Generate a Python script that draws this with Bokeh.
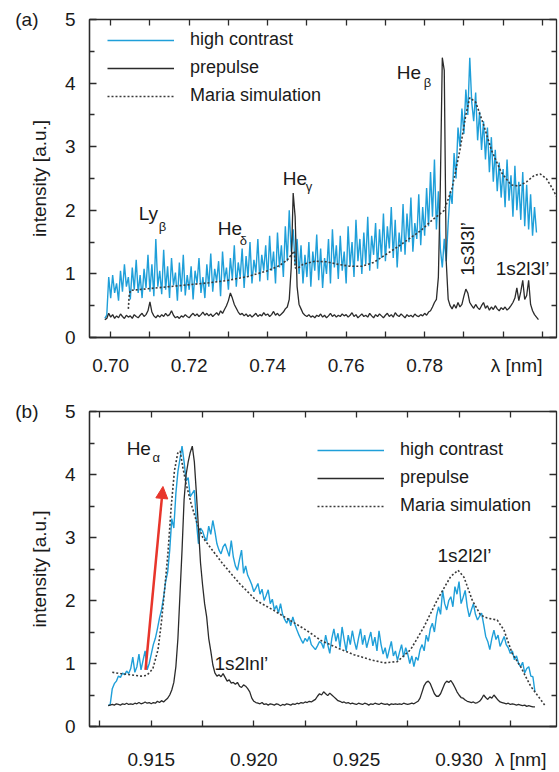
import numpy as np
from bokeh.plotting import figure
from bokeh.layouts import column
from bokeh.models import (FixedTicker, LinearAxis, Label, Arrow, NormalHead,
                          Legend, LegendItem, NumeralTickFormatter, Range1d)
from bokeh.embed import file_html
from bokeh.resources import INLINE

FONT = "Liberation Sans"
BLUE = "#1f9fd9"
DARK = "#2b2b2b"
TXT = "#1a1a1a"

# ---------------- panel (a) data ----------------
a_x0 = 0.6985
a_step = 0.0005
a_high = [
    0.30, 0.35, 0.95,
    0.62, 0.98, 0.70, 0.85, 0.58, 1.05, 0.72, 1.15, 0.80, 0.95,
    0.60, 1.10, 0.75, 1.22, 0.70, 0.98, 0.62, 1.08, 0.78, 1.30,
    0.72, 1.15, 0.65, 1.55, 0.80, 1.05, 0.68, 1.38, 0.75, 1.12,
    0.62, 1.25, 0.82, 1.02, 0.58, 1.18, 0.72, 1.30, 0.66, 0.98,
    0.75, 1.12, 0.60, 1.05, 0.85, 1.25, 0.70, 0.95, 0.62, 1.15,
    0.80, 1.32, 0.72, 1.08, 0.88, 1.20, 0.65, 1.35, 0.90, 1.10,
    0.75, 1.25, 0.92, 1.45, 0.80, 1.18, 0.95, 1.40, 0.78, 1.28,
    0.95, 1.50, 0.85, 1.22, 1.02, 1.55, 0.88, 1.30, 1.05, 1.45,
    0.90, 1.60, 1.05, 1.35, 0.85, 1.65, 1.10, 1.45, 0.95, 1.75,
    1.20, 2.00, 1.35, 1.70, 1.15, 1.55, 1.00, 1.45, 0.85, 1.30,
    0.95, 1.50, 0.80, 1.35, 1.05, 1.62, 0.90, 1.40, 0.78, 1.25,
    1.00, 1.55, 0.85, 1.70, 1.10, 1.45, 0.92, 1.60, 1.05, 1.35,
    0.85, 1.75, 1.12, 1.50, 0.95, 1.85, 1.20, 1.55, 1.00, 1.65,
    1.15, 1.90, 1.05, 1.60, 1.30, 1.80, 1.08, 1.70, 1.25, 1.95,
    1.20, 1.75, 1.40, 2.05, 1.25, 1.85, 1.10, 1.65, 1.35, 2.10,
    1.30, 1.95, 1.50, 2.20, 1.35, 1.80, 1.55, 2.25, 1.45, 2.05,
    1.60, 2.35, 1.75, 2.60, 1.90, 2.80, 1.70, 2.30, 1.40, 1.10,
    1.55, 1.20, 1.80, 2.30, 2.10, 2.90, 2.50, 3.30, 3.00, 3.60,
    3.20, 3.90, 3.50, 4.40, 3.70, 3.40, 3.85, 3.10, 3.55, 2.95,
    3.40, 2.80, 3.30, 2.60, 3.15, 2.45, 2.95, 2.30, 2.75, 2.20,
    2.65, 2.05, 2.80, 2.15, 2.55, 1.90, 2.70, 2.00, 2.45, 1.85,
    2.60, 1.75, 2.40, 1.70, 2.25, 1.60, 2.05, 1.65,
]
a_pre = [
    0.28, 0.30, 0.38,
    0.32, 0.36, 0.30, 0.34, 0.31, 0.37, 0.33, 0.30, 0.35, 0.32,
    0.34, 0.30, 0.36, 0.33, 0.31, 0.35, 0.38, 0.33, 0.36, 0.42,
    0.56, 0.40, 0.34, 0.31, 0.35, 0.32, 0.36, 0.33, 0.38, 0.34,
    0.36, 0.42, 0.35, 0.31, 0.33, 0.30, 0.34, 0.32, 0.36, 0.33,
    0.31, 0.35, 0.38, 0.34, 0.37, 0.33, 0.36, 0.40, 0.35, 0.38,
    0.34, 0.37, 0.33, 0.36, 0.39, 0.35, 0.42, 0.38, 0.44, 0.50,
    0.58, 0.70, 0.62, 0.52, 0.46, 0.40, 0.36, 0.38, 0.34, 0.37,
    0.33, 0.36, 0.32, 0.35, 0.38, 0.33, 0.36, 0.34, 0.39, 0.35,
    0.37, 0.33, 0.36, 0.41, 0.35, 0.38, 0.34, 0.37, 0.40, 0.45,
    0.48, 0.60, 1.10, 2.27, 1.90, 0.80, 0.52, 0.45, 0.38, 0.35,
    0.33, 0.36, 0.32, 0.34, 0.31, 0.35, 0.33, 0.37, 0.32, 0.35,
    0.31, 0.34, 0.38, 0.33, 0.36, 0.32, 0.35, 0.33, 0.37, 0.34,
    0.36, 0.32, 0.35, 0.39, 0.33, 0.36, 0.31, 0.34, 0.37, 0.33,
    0.35, 0.32, 0.38, 0.34, 0.31, 0.36, 0.33, 0.37, 0.34, 0.31,
    0.35, 0.38, 0.33, 0.36, 0.32, 0.39, 0.35, 0.33, 0.37, 0.34,
    0.31, 0.36, 0.33, 0.35, 0.32, 0.37, 0.34, 0.33, 0.36, 0.34,
    0.38, 0.35, 0.40, 0.42, 0.48, 0.55, 0.60, 0.95, 2.40, 4.40,
    4.20, 1.20, 0.60, 0.50, 0.45, 0.52, 0.46, 0.55, 0.48, 0.52,
    0.65, 0.76, 0.70, 0.55, 0.50, 0.46, 0.52, 0.47, 0.44, 0.50,
    0.55, 0.46, 0.50, 0.43, 0.48, 0.44, 0.50, 0.45, 0.42, 0.47,
    0.44, 0.48, 0.43, 0.46, 0.50, 0.55, 0.62, 0.78, 0.58, 0.72,
    0.90, 0.60, 0.66, 0.90, 0.52, 0.42, 0.36, 0.32, 0.28,
]
a_sim_x = [0.7045, 0.7047, 0.7050, 0.7100, 0.7150, 0.7200, 0.7250, 0.7300,
           0.7350, 0.7400, 0.7430, 0.7450, 0.7468, 0.7470, 0.7475, 0.7490,
           0.7520, 0.7550, 0.7580, 0.7610, 0.7640, 0.7670, 0.7700, 0.7730,
           0.7760, 0.7790, 0.7820, 0.7850, 0.7870, 0.7890, 0.7905, 0.7915,
           0.7930, 0.7950, 0.7970, 0.7995, 0.8020, 0.8040, 0.8060, 0.8080,
           0.8095, 0.8110, 0.8125, 0.8136]
a_sim_y = [0.45, 0.65, 0.74, 0.77, 0.80, 0.83, 0.86, 0.90,
           0.96, 1.05, 1.13, 1.22, 1.36, 1.10, 1.08, 1.15,
           1.20, 1.19, 1.15, 1.12, 1.12, 1.18, 1.30, 1.42,
           1.55, 1.68, 1.85, 2.00, 2.35, 2.95, 3.50, 3.77,
           3.70, 3.35, 2.95, 2.60, 2.40, 2.38, 2.45, 2.55,
           2.57, 2.50, 2.35, 2.22]
a_labels = [0.70, 0.72, 0.74, 0.76, 0.78]
a_ticks = [0.70, 0.71, 0.72, 0.73, 0.74, 0.75, 0.76, 0.77, 0.78, 0.79, 0.80, 0.81]
a_unit_at = 0.80344   # where "λ [nm]" sits along the axis

# ---------------- panel (b) data ----------------
b_x0 = 0.9129
b_step = 0.0001
b_high = [
    0.33,
    0.35, 0.60, 0.68, 0.72, 0.80, 0.78, 0.85, 0.82, 0.88, 0.84,
    0.92, 1.10, 0.86, 0.95, 1.15, 0.90, 1.05, 1.20, 0.90, 1.00,
    1.15, 1.30, 1.40, 1.55, 1.72, 1.85, 2.05, 2.30, 2.45, 2.80,
    3.30, 3.15, 3.70, 4.05, 4.25, 4.45, 4.20, 3.90, 3.95, 3.65,
    3.70, 3.75, 3.25, 2.90, 3.15, 3.10, 3.00, 2.95, 3.18, 3.05,
    3.27, 3.10, 2.90, 2.80, 2.74, 2.85, 2.90, 2.80, 2.70, 2.95,
    2.69, 2.55, 2.48, 2.65, 2.80, 2.43, 2.55, 2.40, 2.33, 2.25,
    2.14, 2.20, 2.27, 2.10, 2.18, 2.00, 2.08, 2.17, 1.95, 2.02,
    1.85, 1.92, 1.80, 1.95, 1.78, 1.70, 1.64, 1.72, 1.60, 1.74,
    1.62, 1.53, 1.45, 1.38, 1.32, 1.40, 1.35, 1.43, 1.30, 1.26,
    1.22, 1.28, 1.35, 1.32, 1.24, 1.45, 1.30, 1.16, 1.40, 1.55,
    1.35, 1.48, 1.25, 1.58, 1.38, 1.20, 1.45, 1.30, 1.52, 1.35,
    1.22, 1.40, 1.55, 1.30, 1.45, 1.25, 1.38, 1.50, 1.28, 1.42,
    1.20, 1.52, 1.30, 1.15, 1.25, 1.08, 1.22, 1.35, 1.12, 1.20,
    1.05, 1.18, 1.30, 1.10, 1.25, 1.15, 1.00, 1.12, 0.95, 1.10,
    1.05, 1.22, 1.30, 1.20, 1.45, 1.35, 1.55, 1.64, 1.50, 1.75,
    1.90, 1.78, 2.16, 1.95, 1.85, 2.00, 2.06, 1.90, 2.22, 2.10,
    2.30, 1.95, 2.05, 2.16, 1.90, 1.74, 1.85, 1.95, 1.78, 1.69,
    1.75, 1.80, 1.62, 1.43, 1.35, 1.22, 1.40, 1.53, 1.38, 1.45,
    1.27, 1.35, 1.43, 1.30, 1.25, 1.16, 1.20, 1.06, 1.12, 1.00,
    0.95, 1.02, 0.85, 0.92, 0.95, 0.80, 0.79, 0.55,
]
b_pre = [
    0.33,
    0.34, 0.35, 0.34, 0.36, 0.35, 0.34, 0.36, 0.35, 0.37, 0.35,
    0.36, 0.35, 0.37, 0.36, 0.38, 0.36, 0.37, 0.39, 0.37, 0.38,
    0.36, 0.38, 0.37, 0.40, 0.38, 0.41, 0.39, 0.42, 0.45, 0.50,
    0.58, 0.70, 0.95, 1.40, 2.10, 2.80, 3.60, 4.00, 4.20, 4.35,
    4.45, 4.20, 3.70, 3.15, 2.60, 2.25, 1.95, 1.74, 1.40, 1.20,
    0.98, 0.85, 0.80, 0.82, 0.79, 0.84, 0.78, 0.72, 0.74, 0.69,
    0.70, 0.67, 0.70, 0.64, 0.62, 0.66, 0.64, 0.60, 0.55, 0.45,
    0.40, 0.38, 0.37, 0.36, 0.38, 0.35, 0.36, 0.34, 0.36, 0.35,
    0.34, 0.36, 0.35, 0.33, 0.35, 0.34, 0.36, 0.35, 0.34, 0.36,
    0.35, 0.37, 0.36, 0.38, 0.37, 0.39, 0.38, 0.40, 0.39, 0.41,
    0.43, 0.48, 0.52, 0.50, 0.55, 0.52, 0.49, 0.53, 0.50, 0.47,
    0.44, 0.41, 0.40, 0.38, 0.39, 0.37, 0.38, 0.36, 0.37, 0.36,
    0.35, 0.37, 0.36, 0.35, 0.37, 0.36, 0.34, 0.36, 0.35, 0.37,
    0.36, 0.35, 0.37, 0.36, 0.35, 0.36, 0.34, 0.36, 0.35, 0.36,
    0.35, 0.36, 0.35, 0.37, 0.36, 0.35, 0.36, 0.37, 0.36, 0.38,
    0.40, 0.45, 0.55, 0.65, 0.70, 0.72, 0.68, 0.60, 0.52, 0.48,
    0.48, 0.52, 0.60, 0.68, 0.72, 0.70, 0.73, 0.68, 0.62, 0.55,
    0.50, 0.46, 0.45, 0.42, 0.40, 0.39, 0.38, 0.39, 0.37, 0.38,
    0.40, 0.44, 0.50, 0.46, 0.43, 0.47, 0.45, 0.50, 0.46, 0.42,
    0.39, 0.38, 0.37, 0.36, 0.37, 0.35, 0.36, 0.35, 0.34, 0.35,
    0.34, 0.33, 0.34, 0.32, 0.33, 0.32, 0.31, 0.31,
]
b_sim_x = [0.91310, 0.91350, 0.91400, 0.91450, 0.91476, 0.91490, 0.91508,
           0.91533, 0.91549, 0.91565, 0.91581, 0.91597, 0.91613, 0.91629,
           0.91641, 0.91654, 0.91670, 0.91695, 0.91719, 0.91751, 0.91800,
           0.91849, 0.91930, 0.92012, 0.92093, 0.92174, 0.92255, 0.92330,
           0.92406, 0.92488, 0.92569, 0.92634, 0.92699, 0.92764, 0.92829,
           0.92894, 0.92959, 0.92995, 0.93024, 0.93065, 0.93105, 0.93138,
           0.93186, 0.93219, 0.93259, 0.93300, 0.93349, 0.93397, 0.93422]
b_sim_y = [0.86, 0.84, 0.82, 0.80, 0.81, 0.85, 0.92,
           1.22, 1.64, 2.17, 2.74, 3.48, 4.06, 4.34,
           4.37, 4.11, 3.85, 3.53, 3.27, 3.00, 2.79,
           2.58, 2.27, 2.00, 1.85, 1.69, 1.53, 1.36,
           1.25, 1.14, 1.06, 1.01, 1.03, 1.22, 1.58,
           2.01, 2.38, 2.48, 2.37, 2.00, 1.77, 1.72,
           1.69, 1.53, 1.16, 0.95, 0.64, 0.43, 0.32]
b_labels = [0.915, 0.920, 0.925, 0.930]
b_ticks = [0.9125, 0.915, 0.9175, 0.920, 0.9225, 0.925, 0.9275, 0.930, 0.9325]
b_unit_at = 0.93300

y_major = [0, 1, 2, 3, 4, 5]
y_minor = [0.5, 1.5, 2.5, 3.5, 4.5]

series_names = ["high contrast", "prepulse", "Maria simulation"]


def blank_axis(ticks, minor, tin, tmin):
    return LinearAxis(ticker=FixedTicker(ticks=ticks, minor_ticks=minor),
                      major_label_text_font_size="1px", major_label_text_color=None,
                      major_label_standoff=0,
                      axis_line_color=None, major_tick_in=tin, major_tick_out=0,
                      minor_tick_in=tmin, minor_tick_out=0,
                      major_tick_line_color=DARK, minor_tick_line_color=DARK,
                      major_tick_line_width=1.3, minor_tick_line_width=1.3)


def make_panel(x_range, height, top, bottom, xlabels, xticks, unit_at, xfmt,
               xstandoff, tag):
    p = figure(width=559, height=height, x_range=Range1d(*x_range), y_range=Range1d(0, 5),
               output_backend="svg", toolbar_location=None,
               min_border_left=89, min_border_right=3, min_border_top=top,
               min_border_bottom=bottom)
    p.grid.visible = False
    p.outline_line_color = DARK
    p.outline_line_width = 1.3
    p.background_fill_color = "white"
    p.border_fill_color = "white"

    xa = p.xaxis[0]
    xa.ticker = FixedTicker(ticks=xlabels + [unit_at], minor_ticks=xticks)
    xa.formatter = NumeralTickFormatter(format=xfmt)
    xa.major_label_overrides = {unit_at: "λ [nm]"}
    ya = p.yaxis[0]
    ya.ticker = FixedTicker(ticks=y_major, minor_ticks=y_minor)
    ya.axis_label = "intensity [a.u.]"
    ya.axis_label_standoff = 12
    ya.axis_label_text_font = FONT
    ya.axis_label_text_font_style = "normal"
    ya.axis_label_text_font_size = "19px"
    ya.axis_label_text_color = TXT
    for ax in (xa, ya):
        ax.axis_line_color = DARK
        ax.axis_line_width = 1.3
        ax.major_tick_line_color = DARK
        ax.minor_tick_line_color = DARK
        ax.major_tick_line_width = 1.3
        ax.minor_tick_line_width = 1.3
        ax.major_tick_out = 0
        ax.minor_tick_out = 0
        ax.major_label_text_font = FONT
        ax.major_label_text_font_size = "19px"
        ax.major_label_text_color = TXT
    xa.major_tick_in = 0
    xa.minor_tick_in = 6
    xa.major_label_standoff = xstandoff
    ya.major_tick_in = 7
    ya.minor_tick_in = 5
    ya.major_label_standoff = 14

    p.add_layout(blank_axis(xticks, [], 6, 0), "above")
    p.add_layout(blank_axis(y_major, y_minor, 7, 5), "right")

    # panel tag "(a)" / "(b)" as the label of a tick-less outer axis
    tag_ax = LinearAxis(ticker=FixedTicker(ticks=[5], minor_ticks=[]),
                        major_label_overrides={5: tag}, axis_line_color=None,
                        major_tick_in=0, major_tick_out=0, minor_tick_in=0,
                        minor_tick_out=0, major_label_standoff=-13,
                        major_label_text_font=FONT, major_label_text_font_size="19px",
                        major_label_text_color=TXT)
    p.add_layout(tag_ax, "left")
    return p


def txt(p, x, y, s, size="19px", align="left", baseline="alphabetic", angle=0.0):
    p.add_layout(Label(x=x, y=y, text=s, text_font=FONT, text_font_size=size,
                       text_color=TXT, text_align=align, text_baseline=baseline,
                       angle=angle))


def add_series(p, x0, step, high, pre, sx, sy):
    xh = x0 + step * np.arange(len(high))
    xp = x0 + step * np.arange(len(pre))
    r1 = p.line(xh, high, line_color=BLUE, line_width=1.4)
    r2 = p.line(xp, pre, line_color=DARK, line_width=1.3)
    r3 = p.line(sx, sy, line_color="#3a3a3a", line_width=1.6, line_dash="2 2")
    return [r1, r2, r3]


def add_legend(p, rends, loc):
    items = [LegendItem(label=n, renderers=[r]) for n, r in zip(series_names, rends)]
    lg = Legend(items=items, location=loc, glyph_width=67, glyph_height=20,
                label_height=20, spacing=7, padding=0, margin=0,
                label_standoff=16, label_text_font=FONT,
                label_text_font_size="18px", label_text_color=TXT,
                border_line_color=None, background_fill_alpha=0)
    p.add_layout(lg)


# ---------------- panel (a) ----------------
pa = make_panel((0.6946, 0.8136), 385, 19, 48, a_labels, a_ticks, a_unit_at,
                "0.00", 17, "(a)")
ra = add_series(pa, a_x0, a_step, a_high, a_pre, a_sim_x, a_sim_y)
add_legend(pa, ra, (18, 231))
txt(pa, 0.70713, 1.945, "Ly")
txt(pa, 0.71223, 1.74, "β", size="13px")
txt(pa, 0.72726, 1.709, "He")
txt(pa, 0.73287, 1.52, "δ", size="13px")
txt(pa, 0.74382, 2.496, "He")
txt(pa, 0.74968, 2.37, "γ", size="13px")
txt(pa, 0.77287, 4.165, "He")
txt(pa, 0.77975, 4.008, "β", size="13px")
txt(pa, 0.79096, 1.394, "1s3l3l’", align="center", baseline="middle", angle=np.pi / 2)
txt(pa, 0.79809, 1.079, "1s2l3l’")

# ---------------- panel (b) ----------------
pb = make_panel((0.91199, 0.93475), 387, 26, 44, b_labels, b_ticks, b_unit_at,
                "0.000", 22, "(b)")
rb = add_series(pb, b_x0, b_step, b_high, b_pre, b_sim_x, b_sim_y)
add_legend(pb, rb, (228, 210))
txt(pb, 0.91380, 4.408, "He")
txt(pb, 0.91506, 4.266, "α", size="13px")
txt(pb, 0.91808, 0.999, "1s2lnl’")
txt(pb, 0.92895, 2.719, "1s2l2l’")
pb.add_layout(Arrow(end=NormalHead(size=12, fill_color="#e8352b", line_color="#e8352b"),
                    x_start=0.91472, y_start=0.90, x_end=0.91557, y_end=3.81,
                    line_color="#e8352b", line_width=2.5))

layout = column(pa, pb, spacing=0)
open("out.html", "w").write(file_html(layout, INLINE))
